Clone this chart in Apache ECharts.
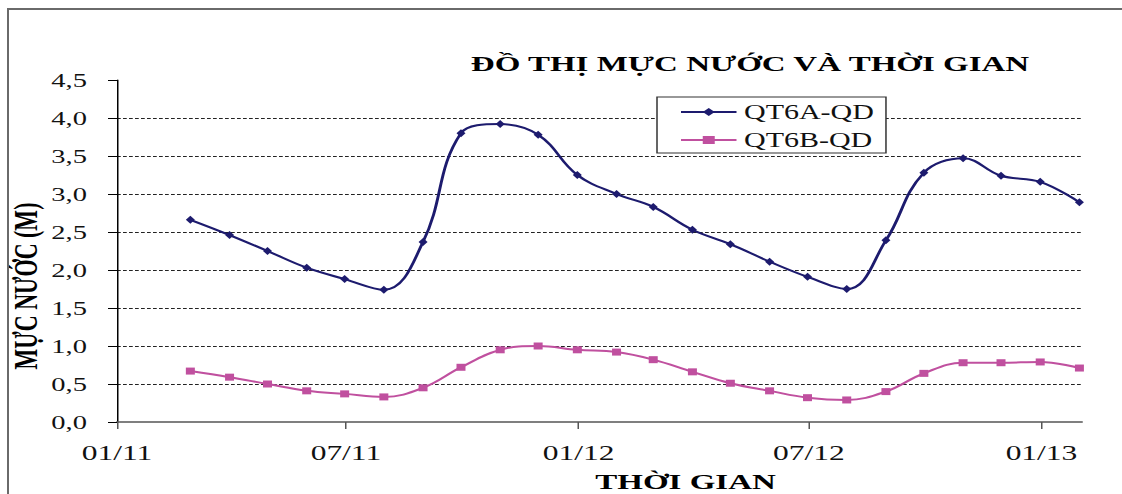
<!DOCTYPE html>
<html>
<head>
<meta charset="utf-8">
<script src="https://cdn.jsdelivr.net/npm/echarts@6/dist/echarts.min.js"></script>
<style>
  html, body { margin: 0; padding: 0; background: #fff; }
  #wrap { position: relative; width: 1122px; height: 494px; overflow: hidden; background: #fff; }
  #frame { position: absolute; left: 7px; top: 8px; width: 1200px; height: 600px; z-index: 2;
           pointer-events: none;
           border-left: 2px solid #6a6a6a; border-top: 2px solid #6a6a6a; }
  #chart { position: absolute; left: 0; top: 0; width: 748px; height: 494px; z-index: 1;
           transform: scaleX(1.5); transform-origin: 0 0; }
</style>
</head>
<body>
<div id="wrap">
  <div id="chart"></div>
  <div id="frame"></div>
</div>
<script>
// ---- data ----
const dates = ['2011-02-28','2011-03-31','2011-04-30','2011-05-31','2011-06-30','2011-07-31',
               '2011-08-31','2011-09-30','2011-10-31','2011-11-30','2011-12-31','2012-01-31',
               '2012-02-29','2012-03-31','2012-04-30','2012-05-31','2012-06-30','2012-07-31',
               '2012-08-31','2012-09-30','2012-10-31','2012-11-30','2012-12-31','2013-01-31'];
const qt6a = [2.66, 2.46, 2.25, 2.03, 1.88, 1.74, 2.37, 3.80, 3.92, 3.78, 3.25, 3.00,
              2.83, 2.53, 2.34, 2.11, 1.91, 1.75, 2.39, 3.28, 3.47, 3.24, 3.16, 2.89];
const qt6b = [0.67, 0.59, 0.50, 0.41, 0.37, 0.33, 0.45, 0.72, 0.95, 1.00, 0.95, 0.92,
              0.82, 0.66, 0.51, 0.41, 0.32, 0.29, 0.40, 0.64, 0.78, 0.78, 0.79, 0.71];
const xTickDates = ['2011-01-01','2011-07-01','2012-01-01','2012-07-01','2013-01-01'];
const xMin = '2011-01-01';
const xMax = '2013-02-02';
const seriesNames = ['QT6A-QD', 'QT6B-QD'];
const titleText = 'ĐỒ THỊ MỰC NƯỚC VÀ THỜI GIAN';
const xName = 'THỜI GIAN';
const yName = 'MỰC NƯỚC (M)';

// days since xMin (UTC, no DST issues)
function utc(s) { const p = s.split('-').map(Number); return Date.UTC(p[0], p[1] - 1, p[2]); }
const DAY = 86400000;
function dayOf(s) { return Math.round((utc(s) - utc(xMin)) / DAY); }
function pad(n) { return String(n).padStart(2, '0'); }
function dayLabel(v) {
  const d = new Date(utc(xMin) + Math.round(v) * DAY);
  return pad(d.getUTCMonth() + 1) + '/' + pad(d.getUTCFullYear() % 100);
}

const FONT = "'Liberation Serif', 'Times New Roman', serif";
const chart = echarts.init(document.getElementById('chart'), null, { renderer: 'svg', width: 748, height: 494 });
const tickDays = xTickDates.map(dayOf);

chart.setOption({
  backgroundColor: 'transparent',
  animation: false,
  title: [
    { text: titleText, left: 500, top: 53, textAlign: 'center', padding: 0,
      textStyle: { fontFamily: FONT, fontSize: 22, fontWeight: 'bold', color: '#000' } },
    { text: xName, left: 457, top: 471, textAlign: 'center', padding: 0,
      textStyle: { fontFamily: FONT, fontSize: 22, fontWeight: 'bold', color: '#000' } }
  ],
  legend: {
    left: 438, top: 97, orient: 'vertical', selectedMode: false,
    padding: [5, 8, 3, 15], itemGap: 8, itemWidth: 37, itemHeight: 10,
    borderColor: '#333', borderWidth: 1, backgroundColor: '#fff',
    textStyle: { fontFamily: FONT, fontSize: 20, color: '#111' },
    data: seriesNames
  },
  graphic: [
    { type: 'text', x: 17, y: 286, rotation: Math.PI / 2,
      style: { text: yName, font: "bold 22px 'Liberation Serif', serif", fill: '#000',
               textAlign: 'center', textVerticalAlign: 'middle' } }
  ],
  grid: { left: 78, right: 26.7, top: 80, bottom: 72 },
  xAxis: {
    type: 'value', min: dayOf(xMin), max: dayOf(xMax),
    axisLine: { lineStyle: { color: '#555', width: 1.5 } },
    axisTick: { show: true, length: 7, inside: false, customValues: tickDays,
                lineStyle: { color: '#555', width: 1 } },
    axisLabel: { customValues: tickDays, margin: 20,
                 fontFamily: FONT, fontSize: 21, color: '#111',
                 formatter: dayLabel },
    splitLine: { show: false }
  },
  yAxis: {
    type: 'value', min: 0, max: 4.5, interval: 0.5,
    axisLine: { show: true, lineStyle: { color: '#000', width: 1 } },
    axisTick: { show: true, length: 6, inside: false, lineStyle: { color: '#000' } },
    axisLabel: { margin: 20, fontFamily: FONT, fontSize: 19, color: '#111',
                 formatter: function (v) { return v.toFixed(1).replace('.', ','); } },
    splitLine: { show: true, showMinLine: false, showMaxLine: false,
                 lineStyle: { color: '#222', width: 1, type: [2.5, 1.5] } }
  },
  series: [
    { name: seriesNames[0], type: 'line', smooth: 0.4,
      data: dates.map((d, i) => [dayOf(d), qt6a[i]]),
      symbol: 'diamond', symbolSize: [6, 8],
      lineStyle: { color: '#1d1b6e', width: 2 },
      itemStyle: { color: '#1d1b6e' } },
    { name: seriesNames[1], type: 'line', smooth: 0.4,
      data: dates.map((d, i) => [dayOf(d), qt6b[i]]),
      symbol: 'rect', symbolSize: [6, 7],
      lineStyle: { color: '#c0509f', width: 2 },
      itemStyle: { color: '#c0509f' } }
  ]
});
</script>
</body>
</html>
